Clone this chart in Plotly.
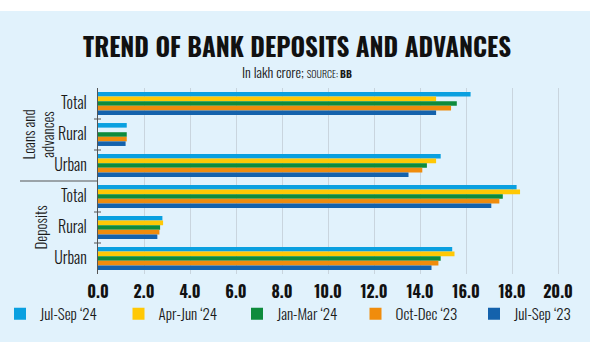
import plotly.graph_objects as go

categories = ["Loans Total", "Loans Rural", "Loans Urban",
              "Deposits Total", "Deposits Rural", "Deposits Urban"]
cat_labels = ["Total", "Rural", "Urban", "Total", "Rural", "Urban"]
series_names = ["Jul-Sep \u201824", "Apr-Jun \u201824", "Jan-Mar \u201824",
                "Oct-Dec \u201823", "Jul-Sep \u201823"]
jul_sep_24 = [16.2, 1.25, 14.9, 18.2, 2.8, 15.4]
apr_jun_24 = [14.7, None, 14.7, 18.35, 2.83, 15.5]
jan_mar_24 = [15.6, 1.25, 14.3, 17.6, 2.7, 14.9]
oct_dec_23 = [15.35, 1.25, 14.1, 17.45, 2.67, 14.8]
jul_sep_23 = [14.7, 1.2, 13.5, 17.1, 2.58, 14.5]
x_ticks = [0, 2, 4, 6, 8, 10, 12, 14, 16, 18, 20]
group_labels = ["Loans and<br>advances", "Deposits"]

colors = ["#0AA0E0", "#FFC805", "#0E8B3C", "#F08C0C", "#1462AC"]
series = [jul_sep_24, apr_jun_24, jan_mar_24, oct_dec_23, jul_sep_23]

W, H = 590, 354
L, R, T, B = 98, 0, 88, 80
pw, ph = W - L - R, H - T - B

def px(xp):
    return (xp - L) / pw

def py(yp):
    return (H - B - yp) / ph

FONT = "Oswald, Roboto Condensed, sans-serif"
BG = "#E1F2FC"
TXT = "#1a1a1a"

fig = go.Figure()
for name, vals, c in zip(series_names, series, colors):
    fig.add_trace(go.Bar(
        y=categories, x=vals, name=name, orientation="h",
        marker=dict(color=c, line=dict(width=0)),
        hoverinfo="x+name",
    ))

shapes = [
    dict(type="rect", xref="paper", yref="paper", x0=px(0), x1=px(W),
         y0=py(342), y1=py(11), fillcolor=BG, line=dict(width=0), layer="below"),
    dict(type="line", xref="paper", yref="paper", x0=px(20), x1=0,
         y0=0.5, y1=0.5, line=dict(color="#555555", width=1)),
]
for k in [1, 2, 4, 5]:
    yb = 1 - k / 6
    shapes.append(dict(type="line", xref="paper", yref="paper",
                       x0=px(94), x1=px(101), y0=yb, y1=yb,
                       line=dict(color="#555555", width=1)))

annotations = [
    dict(text="<b>TREND OF BANK DEPOSITS AND ADVANCES</b>", xref="paper", yref="paper",
         x=px(297), y=py(45), xanchor="center", yanchor="middle", showarrow=False,
         font=dict(family=FONT, size=25, color="#111111")),
    dict(text="In lakh crore; <span style='font-size:10px'>SOURCE: <b>BB</b></span>",
         xref="paper", yref="paper",
         x=px(297), y=py(71.5), xanchor="center", yanchor="middle", showarrow=False,
         font=dict(family=FONT, size=14, color=TXT, weight=300)),
    dict(text=group_labels[0], xref="paper", yref="paper", x=px(37), y=1 - 1.5 / 6,
         xanchor="center", yanchor="middle", showarrow=False, textangle=-90,
         font=dict(family=FONT, size=15, color=TXT, weight=300)),
    dict(text=group_labels[1], xref="paper", yref="paper", x=px(39), y=1 - 4.5 / 6,
         xanchor="center", yanchor="middle", showarrow=False, textangle=-90,
         font=dict(family=FONT, size=15, color=TXT, weight=300)),
]

fig.update_layout(
    width=W, height=H,
    margin=dict(l=L, r=R, t=T, b=B, autoexpand=False),
    paper_bgcolor="white", plot_bgcolor=BG,
    barmode="group", bargap=0.26, bargroupgap=0,
    showlegend=True,
    legend=dict(orientation="h", x=px(0), y=py(314), xanchor="left", yanchor="middle",
                entrywidth=73.5, entrywidthmode="pixels", traceorder="normal",
                font=dict(family=FONT, size=15, color=TXT, weight=300),
                bgcolor="rgba(0,0,0,0)", itemclick=False),
    xaxis=dict(range=[0, pw / 23.0], tickvals=x_ticks,
               ticktext=[f"{v:.1f}" for v in x_ticks],
               showgrid=True, gridcolor="#C9D5DE", gridwidth=1,
               zeroline=False, showline=False, ticks="",
               ticklabelstandoff=7,
               tickfont=dict(family=FONT, size=16, color="#111111", weight="bold")),
    yaxis=dict(type="category", categoryorder="array", categoryarray=categories,
               autorange="reversed", tickvals=categories, ticktext=cat_labels,
               showgrid=False, zeroline=False, showline=True, linecolor="#555555",
               linewidth=1, ticks="", ticklabelstandoff=7,
               tickfont=dict(family=FONT, size=16, color=TXT, weight=300)),
    shapes=shapes, annotations=annotations,
    font=dict(family=FONT),
)

fig.write_html("out.html")
